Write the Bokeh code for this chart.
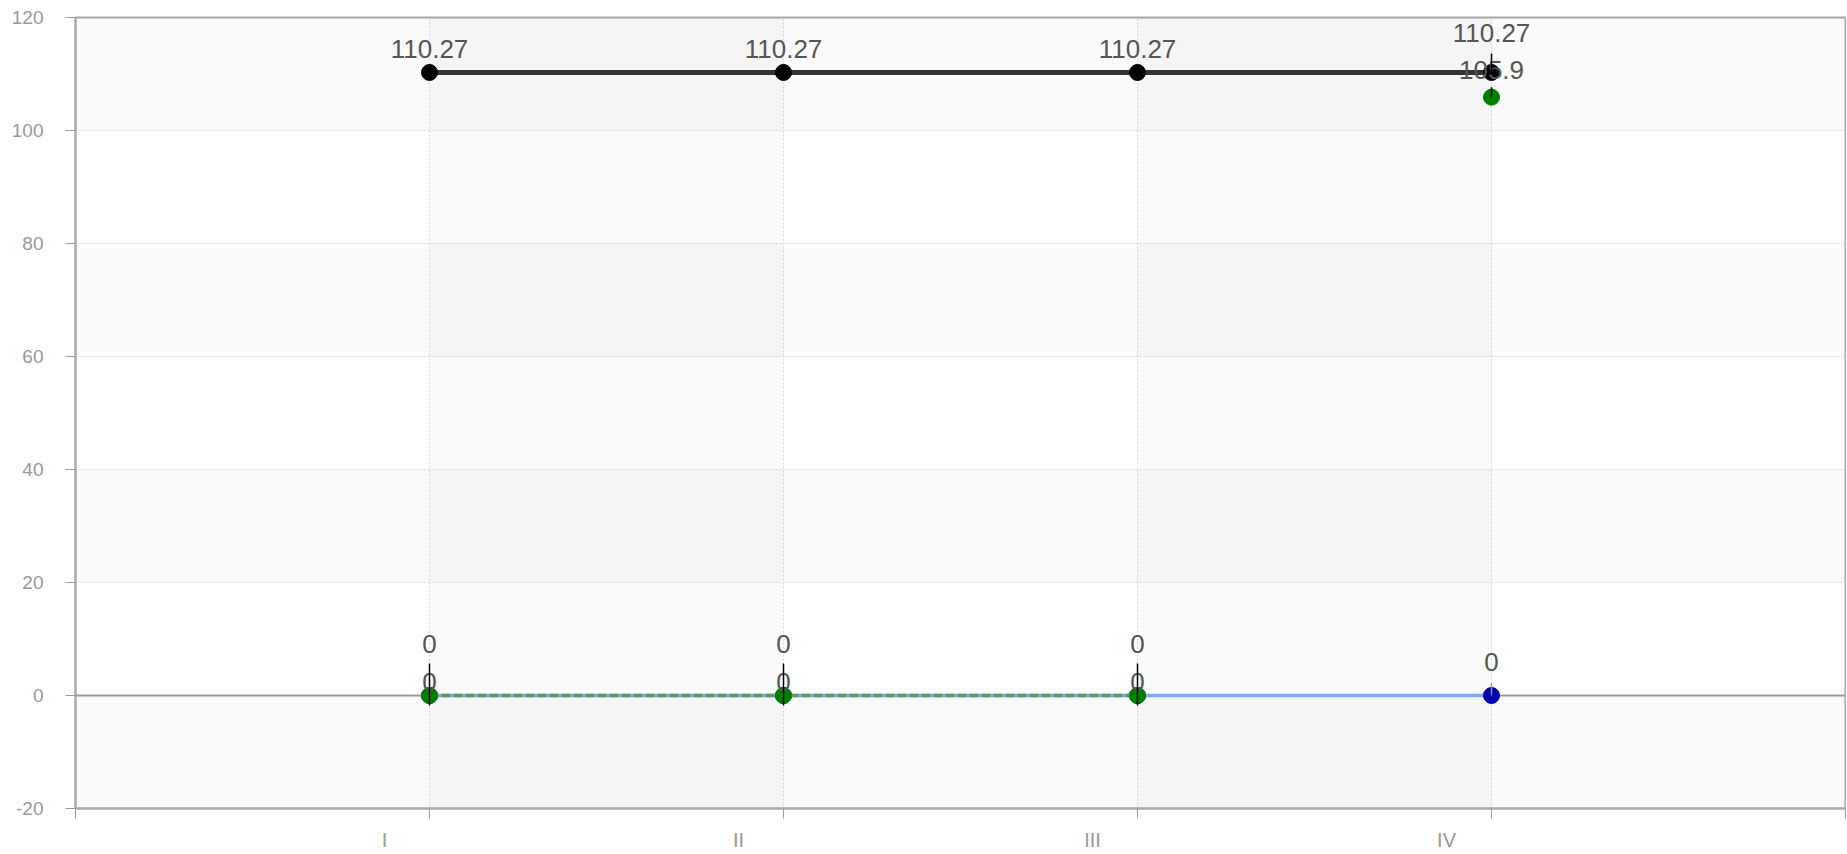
import math
from bokeh.plotting import figure
from bokeh.models import Range1d, FixedTicker, LinearAxis, BoxAnnotation, Span, ColumnDataSource
from bokeh.embed import file_html
from bokeh.resources import INLINE
from bokeh.core.properties import value

# ---- data ----
categories = ["I", "II", "III", "IV"]
black_values = [110.27, 110.27, 110.27, 110.27]
green_values = [0, 0, 0, 105.9]
green_line_values = [0, 0, 0, float("nan")]
blue_values = [0, 0, 0, 0]
y_ticks = [-20, 0, 20, 40, 60, 80, 100, 120]
y_tick_labels = ["-20", "0", "20", "40", "60", "80", "100", "120"]
x_ticks = [0, 1, 2, 3, 4, 5]

x = list(range(1, len(categories) + 1))

# ---- figure ----
p = figure(width=1846, height=853,
           x_range=Range1d(x_ticks[0], x_ticks[-1]),
           y_range=Range1d(y_ticks[0], y_ticks[-1]),
           output_backend="svg", toolbar_location=None,
           min_border_left=75, min_border_right=1,
           min_border_top=17, min_border_bottom=44)
p.background_fill_color = "white"
p.border_fill_color = "white"
p.outline_line_color = "#aaaaaa"
p.outline_line_width = 2

# bands
for i in range(0, len(y_ticks) - 1, 2):
    p.add_layout(BoxAnnotation(bottom=y_ticks[i], top=y_ticks[i + 1], level="underlay",
                               fill_color="black", fill_alpha=0.02, line_color=None))
for i in range(1, len(x_ticks) - 1, 2):
    p.add_layout(BoxAnnotation(left=x_ticks[i], right=x_ticks[i + 1], level="underlay",
                               fill_color="black", fill_alpha=0.02, line_color=None))

# grids
p.xgrid[0].ticker = FixedTicker(ticks=x)
p.ygrid[0].ticker = FixedTicker(ticks=y_ticks)
for g in (p.xgrid[0], p.ygrid[0]):
    g.grid_line_color = "#d8d8d8"
    g.grid_line_dash = "2 2"
    g.grid_line_width = 1

p.add_layout(Span(location=0, dimension="width", line_color="#999999",
                  line_width=2, level="underlay"))

# y axis
ya = p.yaxis[0]
ya.ticker = FixedTicker(ticks=y_ticks, minor_ticks=[])
ya.major_label_overrides = {t: s for t, s in zip(y_ticks, y_tick_labels)}
ya.axis_line_color = "#aaaaaa"
ya.axis_line_width = 2
ya.major_tick_line_color = "#999999"
ya.major_tick_out = 10
ya.major_tick_in = 0
ya.minor_tick_out = 0
ya.minor_tick_in = 0
ya.major_label_standoff = 22
ya.major_label_text_color = "#999999"
ya.major_label_text_font = "Liberation Sans"
ya.major_label_text_font_size = "19px"

# x axis: tick marks only
xa = p.xaxis[0]
xa.ticker = FixedTicker(ticks=x_ticks, minor_ticks=[])
xa.axis_line_color = "#aaaaaa"
xa.axis_line_width = 2
xa.major_tick_line_color = "#999999"
xa.major_tick_out = 10
xa.major_tick_in = 0
xa.minor_tick_out = 0
xa.minor_tick_in = 0
xa.major_label_text_color = None
xa.major_label_text_font_size = "1px"
xa.major_label_standoff = 0

# x axis: category labels (sitting left of their ticks)
label_shift = 0.127
label_pos = [xi - label_shift for xi in x]
xa2 = LinearAxis(ticker=FixedTicker(ticks=label_pos, minor_ticks=[]),
                 major_label_overrides={lp: c for lp, c in zip(label_pos, categories)})
xa2.axis_line_color = None
xa2.major_tick_line_color = None
xa2.minor_tick_line_color = None
xa2.major_tick_out = 0
xa2.major_tick_in = 0
xa2.minor_tick_out = 0
xa2.minor_tick_in = 0
xa2.major_label_standoff = 10
xa2.major_label_text_color = "#999999"
xa2.major_label_text_font = "Liberation Sans"
xa2.major_label_text_font_size = "20px"
p.add_layout(xa2, "below")

# ---- series ----
p.line(x, blue_values, line_color="#80aaf0", line_width=3.5)
p.scatter(x, blue_values, size=16, fill_color="#0000b0", line_color="#0000b0")

p.line(x, green_line_values, line_color="#5e9a5e", line_width=3.5, line_dash="9 3")
p.scatter(x, green_values, size=16, fill_color="#008000", line_color="#008000")

p.line(x, black_values, line_color="#333333", line_width=5)
p.scatter(x, black_values, size=16, fill_color="black", line_color="black")

# ---- labels ----
def labels(vals, offsets):
    src = ColumnDataSource(dict(x=x, y=vals, t=[f"{v:g}" for v in vals], off=offsets))
    p.text(x="x", y="y", text="t", y_offset="off", source=src,
           text_align="center", text_baseline="middle",
           text_font=value("Liberation Sans"), text_font_size="26px",
           text_color="#555555")

labels(blue_values, [-14, -14, -14, -34])
labels(green_values, [-52, -52, -52, -27])
labels(black_values, [-23, -23, -23, -39])

# pointer lines
p.ray(x=x[:3], y=green_values[:3], length=32, angle=math.pi / 2,
      length_units="screen", line_color="black", line_width=1.5)
p.ray(x=x[:3], y=green_values[:3], length=10, angle=-math.pi / 2,
      length_units="screen", line_color="black", line_width=1.5)
p.ray(x=x[3:], y=green_values[3:], length=10, angle=math.pi / 2,
      length_units="screen", line_color="black", line_width=1.5)
p.ray(x=x[3:], y=black_values[3:], length=19, angle=math.pi / 2,
      length_units="screen", line_color="black", line_width=1.5)
p.ray(x=x[3:], y=blue_values[3:], length=12, angle=math.pi / 2,
      length_units="screen", line_color="#888888", line_width=1.5)

open("out.html", "w").write(file_html(p, INLINE))
